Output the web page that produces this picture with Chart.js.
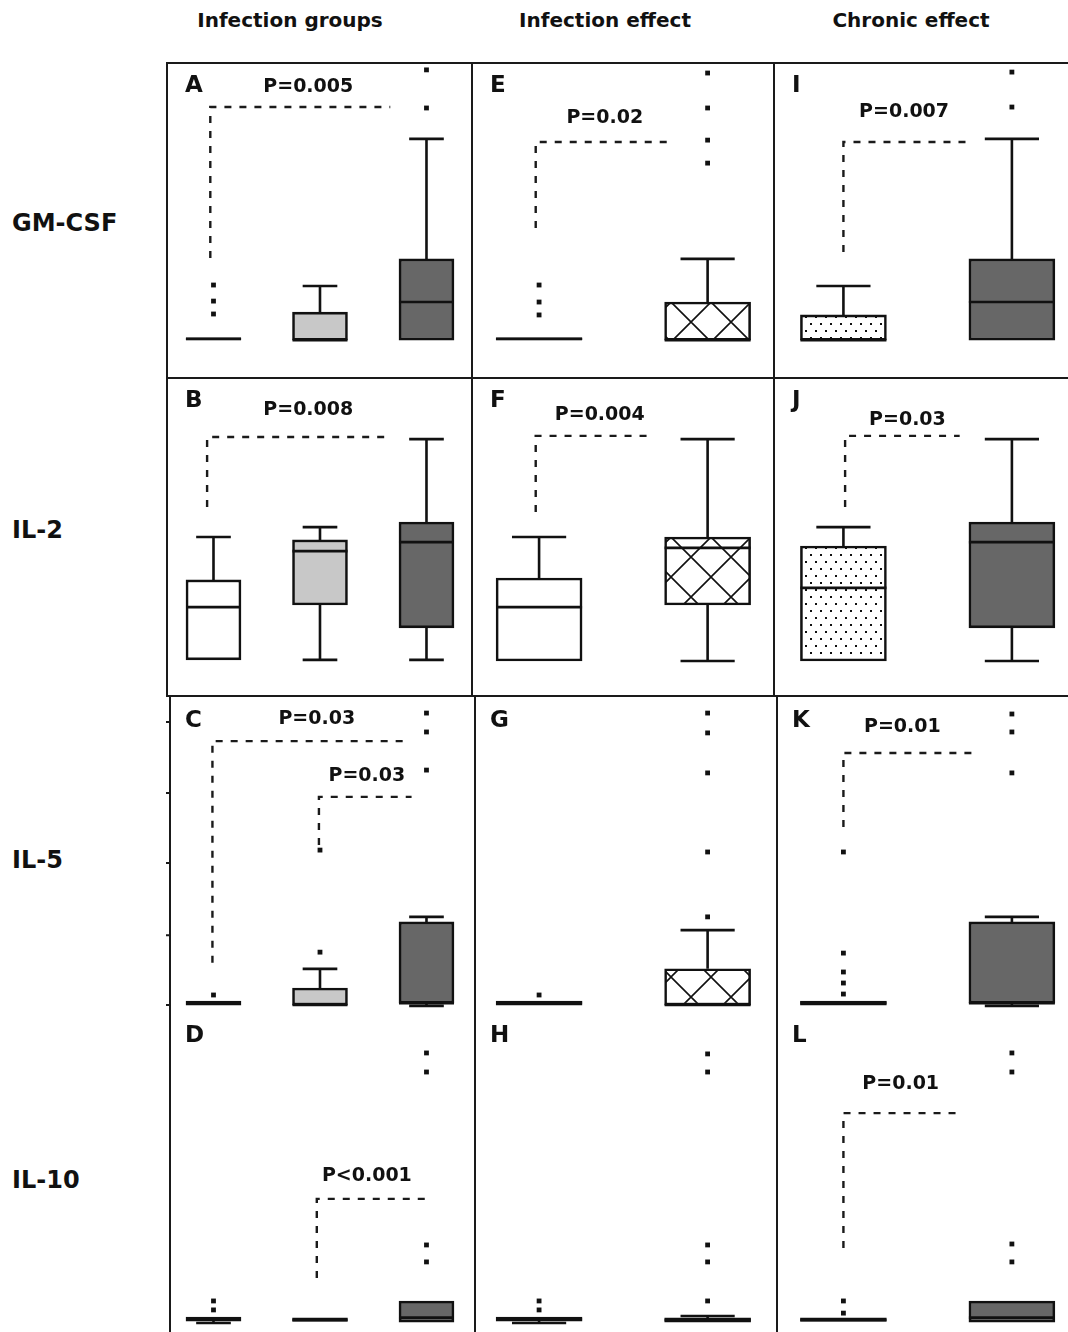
<!DOCTYPE html>
<html>
<head>
<meta charset="utf-8">
<script src="https://cdn.jsdelivr.net/npm/chart.js@4.4.0/dist/chart.umd.min.js"></script>
<style>
  body { margin: 0; background: #fff; }
  #fig { position: relative; width: 1068px; height: 1332px; overflow: hidden;
         font-family: "DejaVu Sans", sans-serif; font-weight: bold; color: #111; }
  #fig canvas { position: absolute; }
  .colTitle { position: absolute; top: 8px; font-size: 20px; line-height: 24px;
              transform: translateX(-50%); white-space: nowrap; }
  .rowTitle { position: absolute; left: 12px; font-size: 24px; line-height: 28px;
              transform: translateY(-50%); white-space: nowrap; }
</style>
</head>
<body>
<div id="fig"></div>
<script>
// ---- categories / labels
const infGroups = ['Uninfected', 'Acute', 'Chronic'];
const infEffect = ['Uninfected', 'Infected'];
const chronEffect = ['Non-chronic', 'Chronic'];
const rowNames = ['GM-CSF', 'IL-2', 'IL-5', 'IL-10'];
const colNames = ['Infection groups', 'Infection effect', 'Chronic effect'];

// ---- box stats per group: [min, q1, median, q3, max]  (relative units, 0-100 per panel)
// outliers: [group, value]
// brackets: [fromX, toX, top, bottom, label, labelX, labelY]
const boxA = [[11.8, 11.8, 12.1, 12.4, 12.4], [11.7, 11.7, 11.7, 20.6, 28.9], [11.7, 11.7, 23.8, 37.5, 75.6]];
const outA = [[1, 29.2], [1, 24.1], [1, 20.0], [3, 97.5], [3, 85.4]];
const pA = [[0.97, 2.66, 85.7, 37.8, 'P=0.005', 1.89, 92.1]];

const boxE = [[11.8, 11.8, 12.1, 12.4, 12.4], [11.7, 11.7, 11.7, 23.8, 37.5]];
const outE = [[1, 29.2], [1, 23.8], [1, 19.7], [2, 96.5], [2, 85.4], [2, 75.2], [2, 67.9]];
const pE = [[0.98, 1.78, 74.6, 47.3, 'P=0.02', 1.39, 82.2]];

const boxI = [[11.7, 11.7, 11.7, 19.7, 28.9], [11.7, 11.7, 23.8, 37.5, 75.6]];
const outI = [[2, 96.8], [2, 85.7]];
const pI = [[1.0, 1.77, 74.6, 39.7, 'P=0.007', 1.36, 84.1]];

const boxB = [[11.6, 11.6, 28.1, 36.6, 50.0], [11.6, 28.75, 45.6, 49.1, 53.1], [11.6, 21.6, 48.4, 54.7, 80.6]];
const outB = [];
const pB = [[0.94, 2.63, 81.25, 59.4, 'P=0.008', 1.89, 89.7]];

const boxF = [[11.25, 11.25, 28.1, 37.2, 50.0], [11.25, 28.75, 46.6, 50.0, 80.6]];
const outF = [];
const pF = [[0.98, 1.66, 81.6, 57.8, 'P=0.004', 1.36, 88.1]];

const boxJ = [[11.25, 11.25, 34.1, 47.2, 53.1], [11.25, 21.6, 48.4, 54.7, 80.6]];
const outJ = [];
const pJ = [[1.01, 1.69, 81.6, 59.4, 'P=0.03', 1.38, 86.6]];

const boxC = [[2.2, 2.2, 2.9, 3.5, 3.5], [2.2, 2.2, 2.2, 7.6, 13.7], [1.9, 2.8, 2.8, 28.6, 30.2]];
const outC = [[1, 5.4], [2, 51.4], [2, 19.0], [3, 94.9], [3, 88.9], [3, 76.8]];
const pC = [[0.99, 2.85, 86.0, 15.6, 'P=0.03', 1.97, 93.0],
            [1.99, 2.86, 68.3, 53.0, 'P=0.03', 2.44, 74.9]];
const il5Ticks = [2.2, 24.4, 47.3, 69.5, 92.1];

const boxG = [[2.2, 2.2, 2.9, 3.5, 3.5], [2.2, 2.2, 2.2, 13.7, 26.0]];
const outG = [[1, 5.4], [2, 94.9], [2, 88.6], [2, 75.9], [2, 50.8], [2, 30.2]];
const pG = [];

const boxK = [[2.2, 2.2, 2.9, 3.5, 3.5], [1.9, 2.8, 2.8, 28.6, 30.2]];
const outK = [[1, 50.8], [1, 18.7], [1, 12.7], [1, 9.2], [1, 5.7], [2, 94.6], [2, 88.9], [2, 75.9]];
const pK = [[1.0, 1.80, 82.2, 58.7, 'P=0.01', 1.35, 90.5]];

const boxD = [[2.8, 3.4, 4.0, 4.7, 4.7], [3.3, 3.3, 3.75, 4.4, 4.4], [3.1, 3.1, 4.5, 9.7, 9.7]];
const outD = [[1, 9.7], [1, 6.9], [3, 87.2], [3, 81.25], [3, 27.2], [3, 21.9]];
const pD = [[1.97, 3.0, 41.6, 16.9, 'P<0.001', 2.44, 48.75]];

const boxH = [[2.8, 3.4, 4.0, 4.7, 4.7], [3.1, 3.1, 3.75, 4.4, 5.0]];
const outH = [[1, 9.7], [1, 6.9], [2, 86.9], [2, 81.25], [2, 27.2], [2, 21.9], [2, 9.7]];
const pH = [];

const boxL = [[3.3, 3.3, 3.75, 4.4, 4.4], [3.1, 3.1, 4.5, 9.7, 9.7]];
const outL = [[1, 9.7], [1, 5.9], [2, 87.2], [2, 81.25], [2, 27.5], [2, 21.9]];
const pL = [[1.0, 1.69, 68.4, 26.25, 'P=0.01', 1.34, 77.5]];

// ---- layout
const colLeft = [166, 471, 773], colWidth = [305, 302, 295];
const rowTop = [62, 377, 697, 1012], rowHeight = [315, 320, 315, 320];
const xRange = [[0.554, 3.418], [0.596, 2.388], [0.582, 2.333]];
const barW = [55, 86, 86];
const ink = '#111';

function hatchPattern() {
  const c = document.createElement('canvas');
  c.width = 40; c.height = 40;
  const g = c.getContext('2d');
  g.fillStyle = '#fff'; g.fillRect(0, 0, 40, 40);
  g.strokeStyle = ink; g.lineWidth = 1.6;
  g.beginPath();
  [-40, 0, 40].forEach(d => {
    g.moveTo(d, 0); g.lineTo(d + 40, 40);
    g.moveTo(d + 40, 0); g.lineTo(d, 40);
  });
  g.stroke();
  return g.createPattern(c, 'repeat');
}
function dotPattern() {
  const c = document.createElement('canvas');
  c.width = 10; c.height = 14;
  const g = c.getContext('2d');
  g.fillStyle = '#fff'; g.fillRect(0, 0, 10, 14);
  g.fillStyle = ink;
  g.fillRect(2, 2, 2, 2); g.fillRect(7, 9, 2, 2);
  return g.createPattern(c, 'repeat');
}
const light = '#c8c8c8', dark = '#676767';
const fills = [['#fff', light, dark], ['#fff', hatchPattern()], [dotPattern(), dark]];
const cats = [infGroups, infEffect, chronEffect];

const panels = [
  {letter: 'A', row: 0, col: 0, box: boxA, out: outA, p: pA},
  {letter: 'E', row: 0, col: 1, box: boxE, out: outE, p: pE},
  {letter: 'I', row: 0, col: 2, box: boxI, out: outI, p: pI},
  {letter: 'B', row: 1, col: 0, box: boxB, out: outB, p: pB},
  {letter: 'F', row: 1, col: 1, box: boxF, out: outF, p: pF},
  {letter: 'J', row: 1, col: 2, box: boxJ, out: outJ, p: pJ},
  {letter: 'C', row: 2, col: 0, box: boxC, out: outC, p: pC, ticks: il5Ticks},
  {letter: 'G', row: 2, col: 1, box: boxG, out: outG, p: pG},
  {letter: 'K', row: 2, col: 2, box: boxK, out: outK, p: pK},
  {letter: 'D', row: 3, col: 0, box: boxD, out: outD, p: pD},
  {letter: 'H', row: 3, col: 1, box: boxH, out: outH, p: pH},
  {letter: 'L', row: 3, col: 2, box: boxL, out: outL, p: pL}
];

// whiskers, caps and medians
const boxParts = {
  id: 'boxParts',
  afterDatasetsDraw(chart) {
    const {ctx, scales: {y}} = chart;
    const stats = chart.data.datasets[0].stats;
    ctx.save();
    ctx.strokeStyle = ink; ctx.lineWidth = 2.6;
    chart.getDatasetMeta(0).data.forEach((el, i) => {
      const [mn, q1, md, q3, mx] = stats[i];
      const {x, width} = el.getProps(['x', 'width'], true);
      const cap = width * 0.63 / 2, half = width / 2;
      ctx.beginPath();
      if (mx > q3) {
        ctx.moveTo(x, y.getPixelForValue(q3)); ctx.lineTo(x, y.getPixelForValue(mx));
        ctx.moveTo(x - cap, y.getPixelForValue(mx)); ctx.lineTo(x + cap, y.getPixelForValue(mx));
      }
      if (mn < q1) {
        ctx.moveTo(x, y.getPixelForValue(q1)); ctx.lineTo(x, y.getPixelForValue(mn));
        ctx.moveTo(x - cap, y.getPixelForValue(mn)); ctx.lineTo(x + cap, y.getPixelForValue(mn));
      }
      ctx.moveTo(x - half, y.getPixelForValue(md)); ctx.lineTo(x + half, y.getPixelForValue(md));
      ctx.stroke();
    });
    ctx.restore();
  }
};

// frame, panel letter, significance brackets
const decor = {
  id: 'decor',
  afterDraw(chart, args, o) {
    const {ctx, chartArea: a, scales: {x, y}} = chart;
    ctx.save();
    ctx.strokeStyle = '#1a1a1a'; ctx.lineWidth = 2;
    const lx = a.left + o.inset + 1;
    ctx.beginPath();
    ctx.moveTo(lx, a.top); ctx.lineTo(lx, a.bottom);
    if (o.top) { ctx.moveTo(a.left, a.top + 1); ctx.lineTo(a.right, a.top + 1); }
    if (o.bottom) { ctx.moveTo(a.left, a.bottom - 1); ctx.lineTo(a.right, a.bottom - 1); }
    (o.ticks || []).forEach(t => {
      const py = y.getPixelForValue(t);
      ctx.moveTo(lx - 4, py); ctx.lineTo(lx, py);
    });
    ctx.stroke();

    ctx.fillStyle = ink;
    ctx.textBaseline = 'middle';
    ctx.textAlign = 'left';
    ctx.font = 'bold 23px "DejaVu Sans"';
    ctx.fillText(o.letter, a.left + 19, a.top + 24);

    ctx.font = 'bold 19px "DejaVu Sans"';
    ctx.textAlign = 'center';
    ctx.lineWidth = 2.4;
    o.brackets.forEach(([x1, x2, top, bottom, label, tx, ty]) => {
      ctx.setLineDash([7, 8]);
      ctx.beginPath();
      ctx.moveTo(x.getPixelForValue(x1), y.getPixelForValue(bottom));
      ctx.lineTo(x.getPixelForValue(x1), y.getPixelForValue(top));
      ctx.lineTo(x.getPixelForValue(x2), y.getPixelForValue(top));
      ctx.stroke();
      ctx.setLineDash([]);
      ctx.fillText(label, x.getPixelForValue(tx), y.getPixelForValue(ty));
    });
    ctx.restore();
  }
};

const fig = document.getElementById('fig');
colNames.forEach((t, i) => {
  const d = document.createElement('div');
  d.className = 'colTitle';
  d.style.left = [290, 605, 911][i] + 'px';
  d.textContent = t;
  fig.appendChild(d);
});
rowNames.forEach((t, i) => {
  const d = document.createElement('div');
  d.className = 'rowTitle';
  d.style.top = [223, 530, 860, 1180][i] + 'px';
  d.textContent = t;
  fig.appendChild(d);
});

panels.forEach(pn => {
  const cv = document.createElement('canvas');
  cv.width = colWidth[pn.col]; cv.height = rowHeight[pn.row];
  cv.style.left = colLeft[pn.col] + 'px';
  cv.style.top = rowTop[pn.row] + 'px';
  fig.appendChild(cv);

  new Chart(cv, {
    type: 'bar',
    data: {
      datasets: [{
        label: cats[pn.col].join(' / '),
        data: pn.box.map((b, i) => ({x: i + 1, y: [b[1], b[3]]})),
        stats: pn.box,
        backgroundColor: fills[pn.col],
        borderColor: ink,
        borderWidth: 2.6,
        borderSkipped: false,
        barThickness: barW[pn.col]
      }, {
        type: 'scatter',
        label: 'outliers',
        data: pn.out.map(([g, v]) => ({x: g, y: v})),
        pointStyle: 'rect',
        radius: 3.4,
        backgroundColor: ink,
        borderWidth: 0,
        clip: false
      }]
    },
    options: {
      responsive: false,
      animation: false,
      events: [],
      layout: {padding: 0, autoPadding: false},
      scales: {
        x: {type: 'linear', display: false, offset: false,
            min: xRange[pn.col][0], max: xRange[pn.col][1]},
        y: {display: false, min: 0, max: 100}
      },
      plugins: {
        legend: {display: false},
        tooltip: {enabled: false},
        decor: {
          letter: pn.letter,
          brackets: pn.p,
          ticks: pn.ticks,
          inset: pn.row >= 2 ? 3 : 0,
          top: pn.row <= 1,
          bottom: pn.row === 1
        }
      }
    },
    plugins: [boxParts, decor]
  });
});
</script>
</body>
</html>
